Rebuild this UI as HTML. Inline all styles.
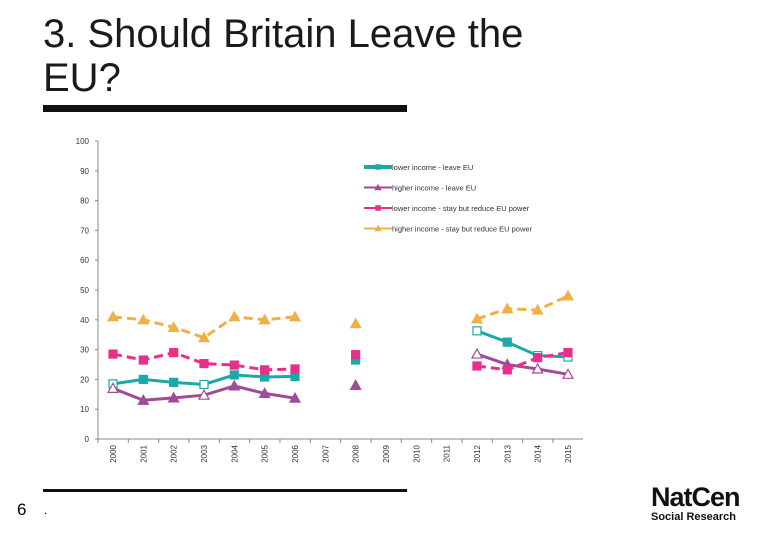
<!DOCTYPE html>
<html><head><meta charset="utf-8"><style>
body{margin:0;width:780px;height:540px;background:#fff;overflow:hidden;font-family:"Liberation Sans",sans-serif;position:relative}
.t{position:absolute;left:43px;top:12px;font-size:40px;line-height:44px;color:#1a1a1a}
</style></head><body>
<div class="t">3. Should Britain Leave the<br>EU?</div>
<div style="position:absolute;left:43px;top:105px;width:364px;height:7px;background:#111"></div>
<div style="position:absolute;left:43px;top:489px;width:364px;height:3px;background:#111"></div>
<div style="position:absolute;left:17px;top:500px;font-size:17px">6</div>
<div style="position:absolute;left:44px;top:503px;font-size:12px">.</div>
<div style="position:absolute;left:651px;top:484px;font-weight:bold;color:#111">
<div style="font-size:27px;line-height:27px;letter-spacing:-1px">NatCen</div>
<div style="font-size:11px;line-height:12px">Social Research</div></div>
<svg id="c" width="780" height="540" style="position:absolute;left:0;top:0"></svg>
<script>
const years=[2000,2001,2002,2003,2004,2005,2006,2007,2008,2009,2010,2011,2012,2013,2014,2015];
const yTicks=[0,10,20,30,40,50,60,70,80,90,100];
const lowerLeave=[18.5,20,19,18.3,21.5,20.8,21,null,26.5,null,null,null,36.3,32.5,28,27.5];
const higherLeave=[17,13,13.8,14.7,17.8,15.3,13.7,null,18,null,null,null,28.5,25,23.5,21.7];
const lowerStay=[28.5,26.5,29,25.3,24.8,23.2,23.5,null,28.3,null,null,null,24.5,23.2,27.3,29];
const higherStay=[41,40,37.5,34,41,40,41,null,38.7,null,null,null,40.3,43.7,43.3,48];
const names=["lower income - leave EU","higher income - leave EU","lower income - stay but reduce EU power","higher income - stay but reduce EU power"];
const svg=document.getElementById('c');const NS='http://www.w3.org/2000/svg';
const X=i=>113+i*30.33, Y=v=>439-v*2.98;
function mk(t,a,p){const e=document.createElementNS(NS,t);for(const k in a)e.setAttribute(k,a[k]);(p||svg).appendChild(e);return e;}
const ax=mk('line',{x1:98,y1:141,x2:98,y2:439,stroke:'#888'});


const xa=mk('line',{x1:98,y1:439,x2:583,y2:439,stroke:'#888'});


yTicks.forEach(v=>{const t=mk('text',{x:89,y:Y(v)+3,'text-anchor':'end','font-size':8,fill:'#333'});t.textContent=v;


mk('line',{x1:95,y1:Y(v),x2:98,y2:Y(v),stroke:'#888'});});
years.forEach((y,i)=>{mk('line',{x1:X(i)-15,y1:439,x2:X(i)-15,y2:443,stroke:'#888'});
const t=mk('text',{x:0,y:0,'font-size':8,fill:'#333','text-anchor':'end',transform:`translate(${X(i)+3},445) rotate(-90)`});t.textContent=y;

});
const series=[[lowerLeave,'#1aa9a6',false,'sq'],[higherLeave,'#a04b96',false,'tri'],[lowerStay,'#e8308a',true,'sq'],[higherStay,'#f0b048',true,'tri']];
function marker(x,y,s,c,open,g){if(s=='sq')return mk('rect',{x:x-4,y:y-4,width:8,height:8,fill:open?'#fff':c,stroke:c,'stroke-width':1.2},g);
return mk('polygon',{points:`${x},${y-5} ${x+5},${y+4} ${x-5},${y+4}`,fill:open?'#fff':c,stroke:c,'stroke-width':1.2},g);}
series.forEach(([d,c,dash,s],k)=>{const g=mk('g',{});


let seg=[];const flush=()=>{if(seg.length>1)mk('polyline',{points:seg.join(' '),fill:'none',stroke:c,'stroke-width':3,'stroke-dasharray':dash?'9 5':'none'},g);seg=[];};
d.forEach((v,i)=>{if(v==null){flush();return;}seg.push(X(i)+','+Y(v));});flush();
d.forEach((v,i)=>{if(v==null)return;const open=(k<2)&&(i==0||i==3||i==12||i==14||i==15);const m=marker(X(i),Y(v),s,c,open,g);

});
const ly=167+k*20.5;const lg=mk('g',{},svg);


mk('line',{x1:364,y1:ly,x2:392,y2:ly,stroke:c,'stroke-width':k==0?4:2},lg);marker(378,ly,s,c,false,lg).setAttribute('transform',`translate(${378*0.4},${ly*0.4}) scale(0.6)`);
const t=mk('text',{x:392,y:ly+3,'font-size':7.5,fill:'#333'},lg);t.textContent=names[k];});
</script>
</body></html>
